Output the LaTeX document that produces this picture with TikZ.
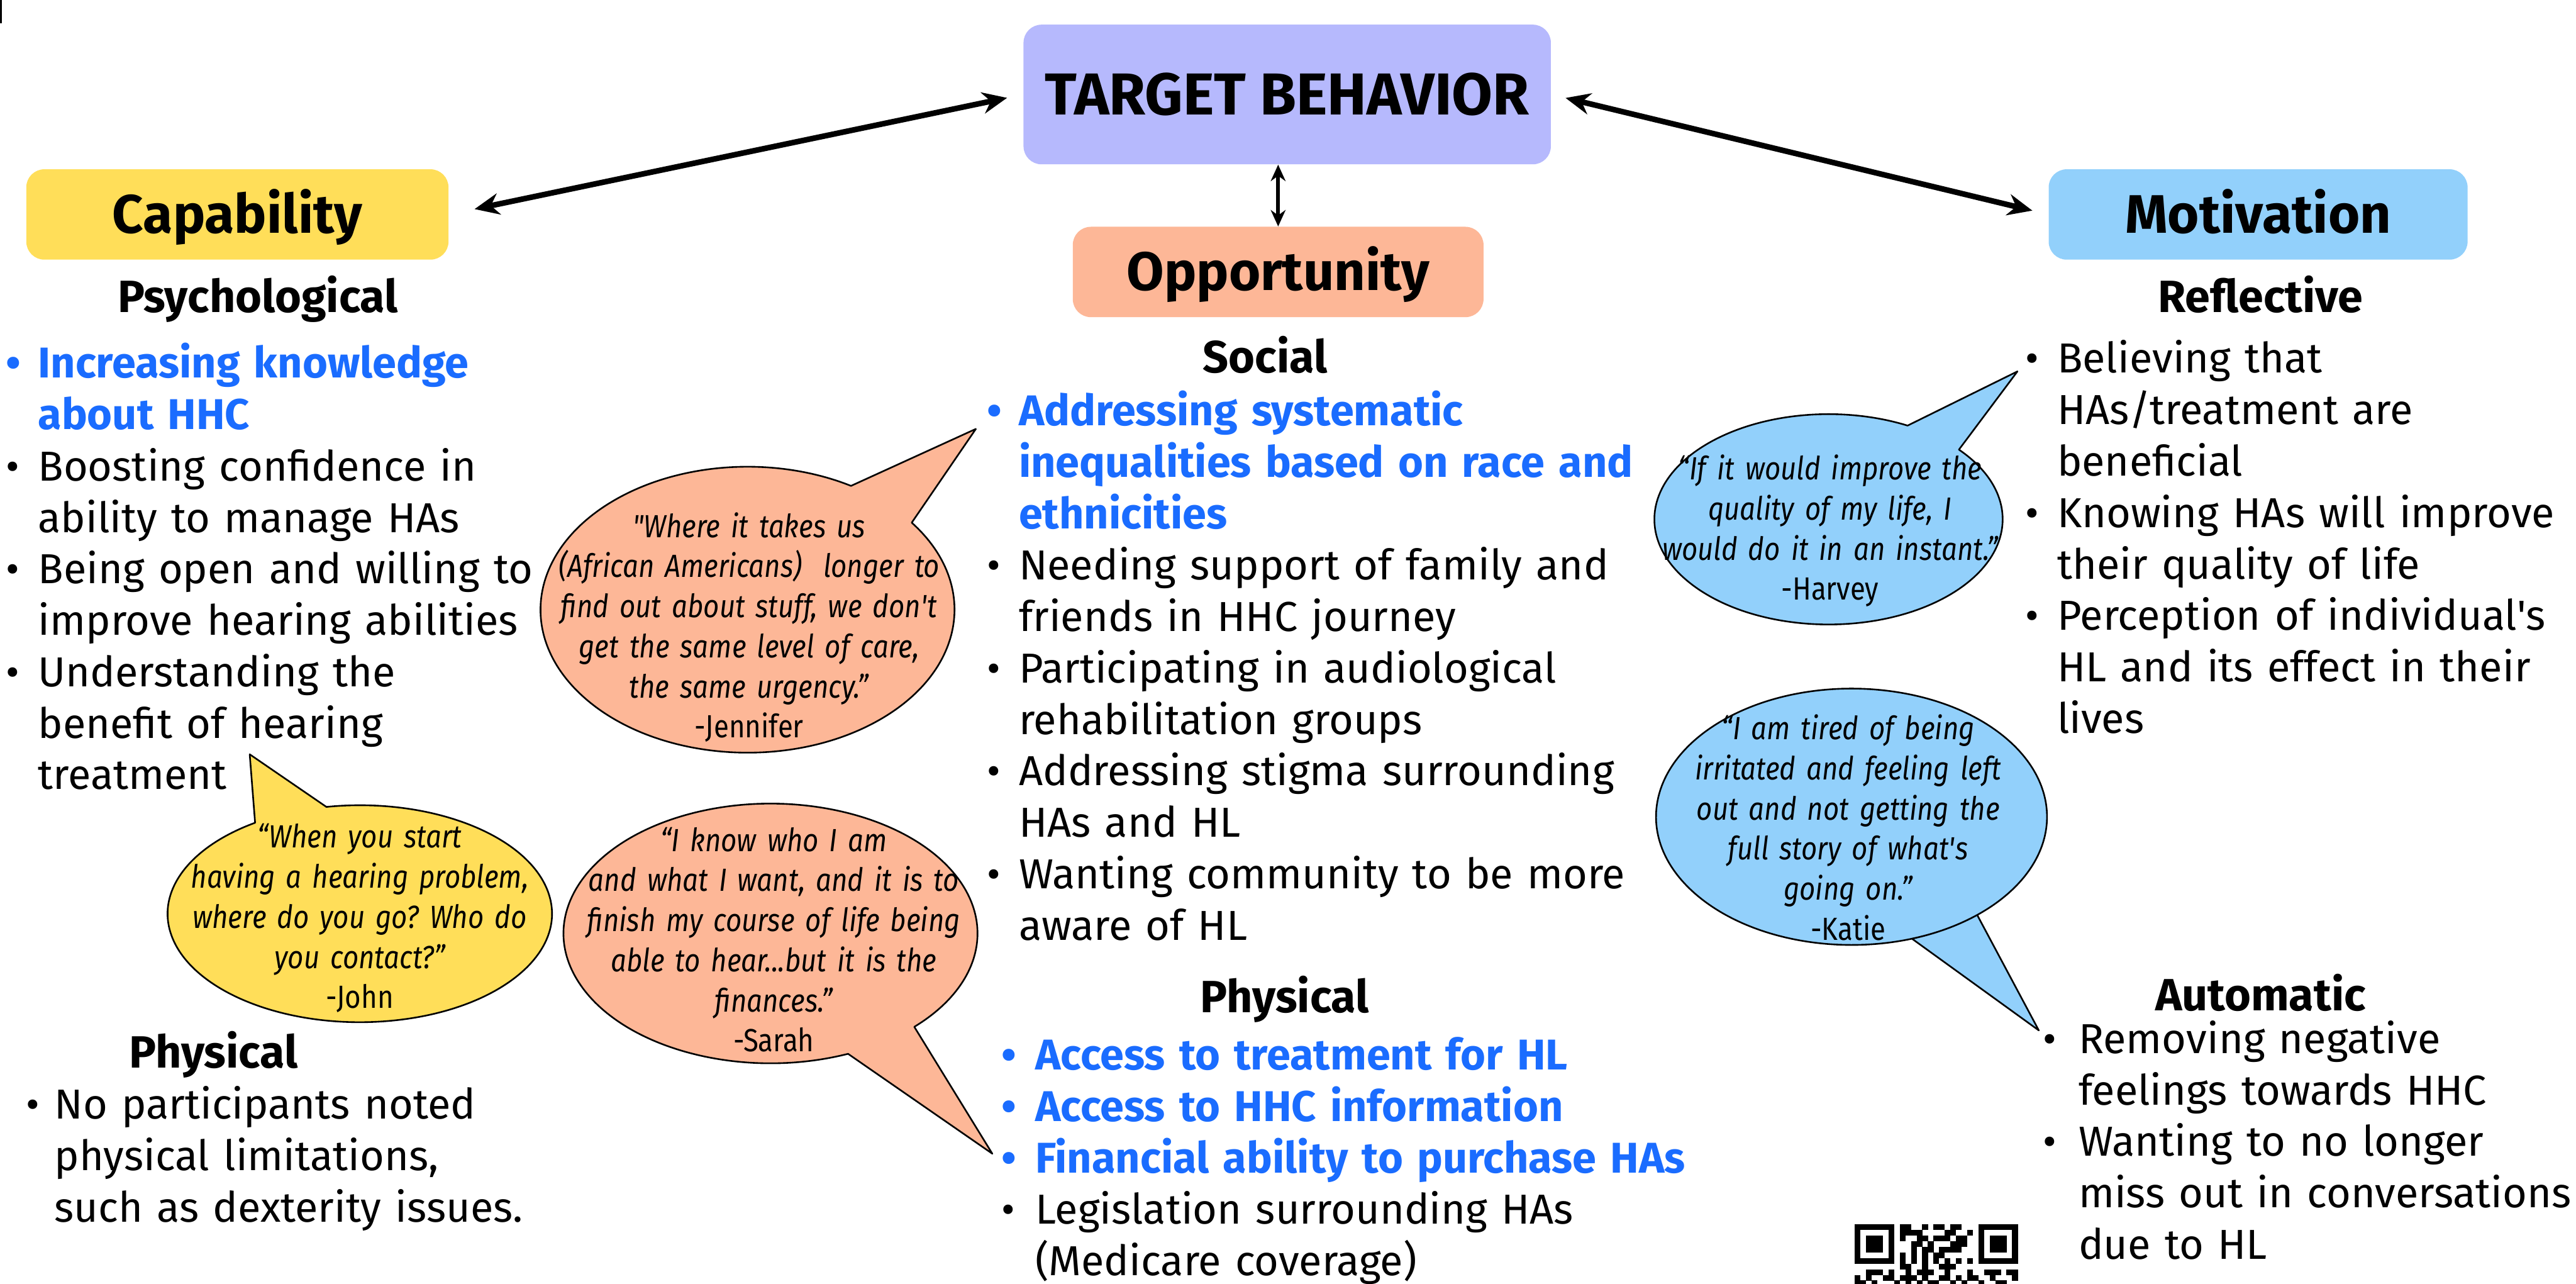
\documentclass[tikz,border=0pt]{standalone}
\usepackage{fontspec}
\setmainfont{Fira Sans}
\newfontfamily\quotefont[FakeStretch=0.86]{Fira Sans}
\usetikzlibrary{arrows.meta}
\frenchspacing

\definecolor{tbpurple}{RGB}{182,185,253}
\definecolor{capyellow}{RGB}{255,222,89}
\definecolor{oppsalmon}{RGB}{253,183,151}
\definecolor{motblue}{RGB}{146,208,251}
\definecolor{hlblue}{RGB}{26,108,255}

% bullet items with a hanging indent
\newlength\bltw
\setlength\bltw{19.5pt}
\newcommand\blt[1]{\noindent\hangindent=\bltw\hangafter=1%
  \makebox[\bltw][l]{\textbullet}#1\par}
\newcommand\bluept[1]{{\color{hlblue}\fontsize{26.2}{31.3}\selectfont\bfseries\blt{#1}}}

\tikzset{
  titlebox/.style={rounded corners=11pt, inner sep=0pt, text depth=0pt},
  subhead/.style={anchor=base, inner sep=0pt, font=\fontsize{27.5}{30}\selectfont\bfseries},
  listtext/.style={anchor=base west, inner sep=0pt, text width=440pt, align=left,
    font=\fontsize{25.5}{31.3}\selectfont},
  quotetext/.style={anchor=base, inner sep=0pt, text width=280pt, align=center,
    font=\quotefont\fontsize{19.5}{24.4}\selectfont\itshape},
  bubble/.style={draw=black, line width=1pt, line join=round},
  biarrow/.style={{Stealth[length=15pt,width=13pt]}-{Stealth[length=15pt,width=13pt]},
    line width=3.4pt},
}

\begin{document}
\begin{tikzpicture}[x=1pt, y=-1pt]
\useasboundingbox (0,0) rectangle (1568,781);
\clip (0,0) rectangle (1568,781);
% frame edge at the top left
\draw[line width=1.2pt] (0.6,0) -- (0.6,14);

% boxes
\node[titlebox, fill=tbpurple, minimum width=321pt, minimum height=85pt, text height=24.8pt,
  font=\fontsize{36}{39}\selectfont\bfseries] (tb) at (783.5,57.5) {TARGET BEHAVIOR};
\node[titlebox, fill=capyellow, minimum width=257pt, minimum height=55pt, text height=22.7pt,
  font=\fontsize{33}{36}\selectfont\bfseries] (cap) at (144.5,130.5) {Capability};
\node[titlebox, fill=oppsalmon, minimum width=250pt, minimum height=55pt, text height=22.7pt,
  font=\fontsize{33}{36}\selectfont\bfseries] (opp) at (778,165.5) {Opportunity};
\node[titlebox, fill=motblue, minimum width=255pt, minimum height=55pt, text height=22.7pt,
  font=\fontsize{33}{36}\selectfont\bfseries] (mot) at (1374.5,130.5) {Motivation};

% links
\draw[biarrow, shorten <=16pt, shorten >=10pt] (cap.east) -- (tb.west);
\draw[biarrow, shorten <=9pt, shorten >=10pt] (tb.east) -- (mot.west);
\draw[biarrow, line width=2.2pt, {Stealth[length=10pt,width=9pt]}-{Stealth[length=10pt,width=9pt]}]
  (opp.north) -- (opp.north |- tb.south);

% Capability
\node[subhead] (psyhead) at (157,190) {Psychological};
\node[listtext] (psylist) at (3.5,230) {%
  \bluept{Increasing knowledge\newline about HHC}%
  \blt{Boosting confidence in\newline ability to manage HAs}%
  \blt{Being open and willing to\newline improve hearing abilities}%
  \blt{Understanding the\newline benefit of hearing\newline treatment}};
\node[subhead] (physhead) at (130,650) {Physical};
\node[listtext] (physlist) at (15.5,681) {\setlength\bltw{17.5pt}%
  \blt{No participants noted\newline physical limitations,\newline such as dexterity issues.}};

% Opportunity
\node[subhead] (sochead) at (770,227) {Social};
\node[listtext] (soclist) at (600.5,259) {%
  \bluept{Addressing systematic\newline inequalities based on race and\newline ethnicities}%
  \blt{Needing support of family and\newline friends in HHC journey}%
  \blt{Participating in audiological\newline rehabilitation groups}%
  \blt{Addressing stigma surrounding\newline HAs and HL}%
  \blt{Wanting community to be more\newline aware of HL}};
\node[subhead] (envhead) at (782,616) {Physical};
\node[listtext] (envlist) at (609.5,651) {\setlength\bltw{20.5pt}%
  \bluept{Access to treatment for HL}%
  \bluept{Access to HHC information}%
  \bluept{Financial ability to purchase HAs}%
  \blt{Legislation surrounding HAs\newline (Medicare coverage)}};

% Motivation
\node[subhead] (refhead) at (1376,190) {Reflective};
\node[listtext] (reflist) at (1232.5,227) {%
  \blt{Believing that\newline HAs/treatment are\newline beneficial}%
  \blt{Knowing HAs will improve\newline their quality of life}%
  \blt{Perception of individual\textquotesingle s\newline HL and its effect in their\newline lives}};
\node[subhead] (autohead) at (1376,615) {Automatic};
\node[listtext] (autolist) at (1243.5,641) {\setlength\bltw{21.5pt}%
  \blt{Removing negative\newline feelings towards HHC}%
  \blt{Wanting to no longer\newline miss out in conversations\newline due to HL}};

% speech bubbles
\coordinate (jenc) at (455,371);   \coordinate (jentip) at (594,261);
\coordinate (johnc) at (219,556);  \coordinate (johntip) at (152,459);
\coordinate (sarc) at (469,568);   \coordinate (sartip) at (604,702);
\coordinate (harc) at (1113,316);  \coordinate (hartip) at (1228,226);
\coordinate (katc) at (1127,497);  \coordinate (kattip) at (1241,627);

\filldraw[bubble, fill=oppsalmon] (jenc) ++(-37.5:126 and 87)
  arc[start angle=-37.5, end angle=300, x radius=126, y radius=87] -- (jentip) -- cycle;
\filldraw[bubble, fill=capyellow] (johnc) ++(-100:117 and 66)
  arc[start angle=-100, end angle=237, x radius=117, y radius=66] -- (johntip) -- cycle;
\filldraw[bubble, fill=oppsalmon] (sarc) ++(68:126 and 79)
  arc[start angle=68, end angle=406, x radius=126, y radius=79] -- (sartip) -- cycle;
\filldraw[bubble, fill=motblue] (harc) ++(-41.5:106 and 64)
  arc[start angle=-41.5, end angle=297, x radius=106, y radius=64] -- (hartip) -- cycle;
\filldraw[bubble, fill=motblue] (katc) ++(50:119 and 78)
  arc[start angle=50, end angle=432, x radius=119, y radius=78] -- (kattip) -- cycle;

\node[quotetext] (jenq) at (456,327) {"Where it takes us\\
  (African Americans)\ \ longer to\\ find out about stuff, we don\textquotesingle t\\
  get the same level of care,\\ the same urgency.”\\ \upshape -Jennifer};
\node[quotetext] (johnq) at (219,516) {“When you start\\ having a hearing problem,\\
  where do you go? Who do\\ you contact?”\\ \upshape -John};
\node[quotetext] (sarq) at (471,518) {“I know who I am\\ and what I want, and it is to\\
  finish my course of life being\\ able to hear...but it is the\\ finances.”\\ \upshape -Sarah};
\node[quotetext] (harq) at (1114,292) {“If it would improve the\\ quality of my life, I\\
  would do it in an instant.”\\ \upshape -Harvey};
\node[quotetext] (katq) at (1125,450) {“I am tired of being\\ irritated and feeling left\\
  out and not getting the\\ full story of what\textquotesingle s\\ going on.”\\ \upshape -Katie};

% QR code corner
\begin{scope}[shift={(1129,745)}]
\foreach \r/\cs in {
  0/{0,1,2,3,4,5,6,8,9,12,14,15,17,18,22,23,24,25,26,27,28},
  1/{0,6,8,9,10,11,16,17,20,22,28},
  2/{0,2,3,4,6,8,11,12,14,15,16,18,19,22,24,25,26,28},
  3/{0,2,3,4,6,10,11,13,17,18,19,22,24,25,26,28},
  4/{0,2,3,4,6,10,12,13,15,16,17,18,22,24,25,26,28},
  5/{0,6,8,10,12,14,15,22,28},
  6/{0,1,2,3,4,5,6,8,10,12,14,16,18,20,22,23,24,25,26,27,28},
  7/{8,9,12,15,16,17},
  8/{2,3,4,6,9,11,12,13,16,20,23,24,25,27,28},
  9/{0,2,5,6,8,9,10,12,15,16,18,20,21,24,28},
  10/{0,1,3,7,9,11,13,14,17,19,22,25,26}}
  \foreach \c in \cs
    \fill (\c*3.42,\r*3.42) rectangle ++(3.5,3.5);
\end{scope}
\end{tikzpicture}
\end{document}
